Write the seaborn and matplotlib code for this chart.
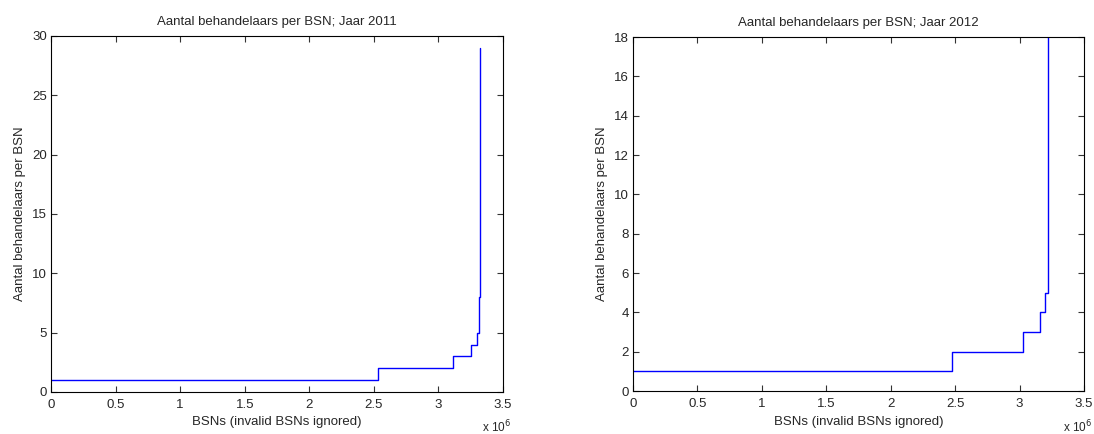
import matplotlib
matplotlib.use("Agg")
import matplotlib.pyplot as plt
import seaborn as sns
import pandas as pd
import numpy as np

# Data (step breakpoints: value holds from x until next x)
x_2011 = [0, 2.535e6, 3.109e6, 3.253e6, 3.297e6, 3.315e6, 3.320e6]
y_2011 = [1, 2, 3, 4, 5, 8, 29]
x_2012 = [0, 2.476e6, 3.026e6, 3.155e6, 3.201e6, 3.217e6, 3.2245e6]
y_2012 = [1, 2, 3, 4, 5, 6, 25]

titles = ["Aantal behandelaars per BSN; Jaar 2011", "Aantal behandelaars per BSN; Jaar 2012"]
xlabel = "BSNs (invalid BSNs ignored)"
ylabel = "Aantal behandelaars per BSN"
xticks = [0, 0.5e6, 1e6, 1.5e6, 2e6, 2.5e6, 3e6, 3.5e6]
xticklabels = ["0", "0.5", "1", "1.5", "2", "2.5", "3", "3.5"]
yticks_2011 = [0, 5, 10, 15, 20, 25, 30]
yticks_2012 = [0, 2, 4, 6, 8, 10, 12, 14, 16, 18]

sns.set_style("ticks")
plt.rcParams['font.family'] = ['Liberation Sans', 'DejaVu Sans']
plt.rcParams['xtick.direction'] = 'in'
plt.rcParams['ytick.direction'] = 'in'

W, H = 1094, 434
fig = plt.figure(figsize=(W / 100, H / 100), dpi=100)
fig.patch.set_facecolor('white')

def make_axes(x0, x1, ytop, ybot):
    return fig.add_axes([x0 / W, (H - ybot) / H, (x1 - x0) / W, (ybot - ytop) / H])

ax1 = make_axes(51, 503, 36, 392)
ax2 = make_axes(633, 1084, 37, 391)

panels = [
    (ax1, x_2011, y_2011, yticks_2011, 30, titles[0]),
    (ax2, x_2012, y_2012, yticks_2012, 18, titles[1]),
]
fs = 9.5
for ax, xs, ys, yt, ymax, title in panels:
    df = pd.DataFrame({"x": xs, "y": ys})
    sns.lineplot(data=df, x="x", y="y", ax=ax, color=(0, 0, 1), lw=1.0,
                 drawstyle='steps-post', estimator=None, sort=False)
    ax.set_xlim(0, 3.5e6)
    ax.set_ylim(0, ymax)
    ax.set_xticks(xticks)
    ax.set_xticklabels(xticklabels, fontsize=fs)
    ax.set_yticks(yt)
    ax.set_yticklabels([str(v) for v in yt], fontsize=fs)
    ax.tick_params(top=True, right=True, length=4, width=0.8, color='#333333')
    ax.tick_params(axis='x', pad=5)
    ax.tick_params(axis='y', pad=3)
    for s in ax.spines.values():
        s.set_visible(True)
        s.set_linewidth(0.8)
        s.set_color('black')
    ax.set_title(title, fontsize=fs, pad=8)
    ax.set_xlabel(xlabel, fontsize=fs, labelpad=4)
    ax.set_ylabel(ylabel, fontsize=fs, labelpad=4)
    bb = ax.get_position()
    fig.text(bb.x1 + 8 / W, 1 - 432 / H, r'x 10$^6$', fontsize=8.5, ha='right', va='baseline')

fig.savefig("out.png", dpi=100, facecolor='white')
